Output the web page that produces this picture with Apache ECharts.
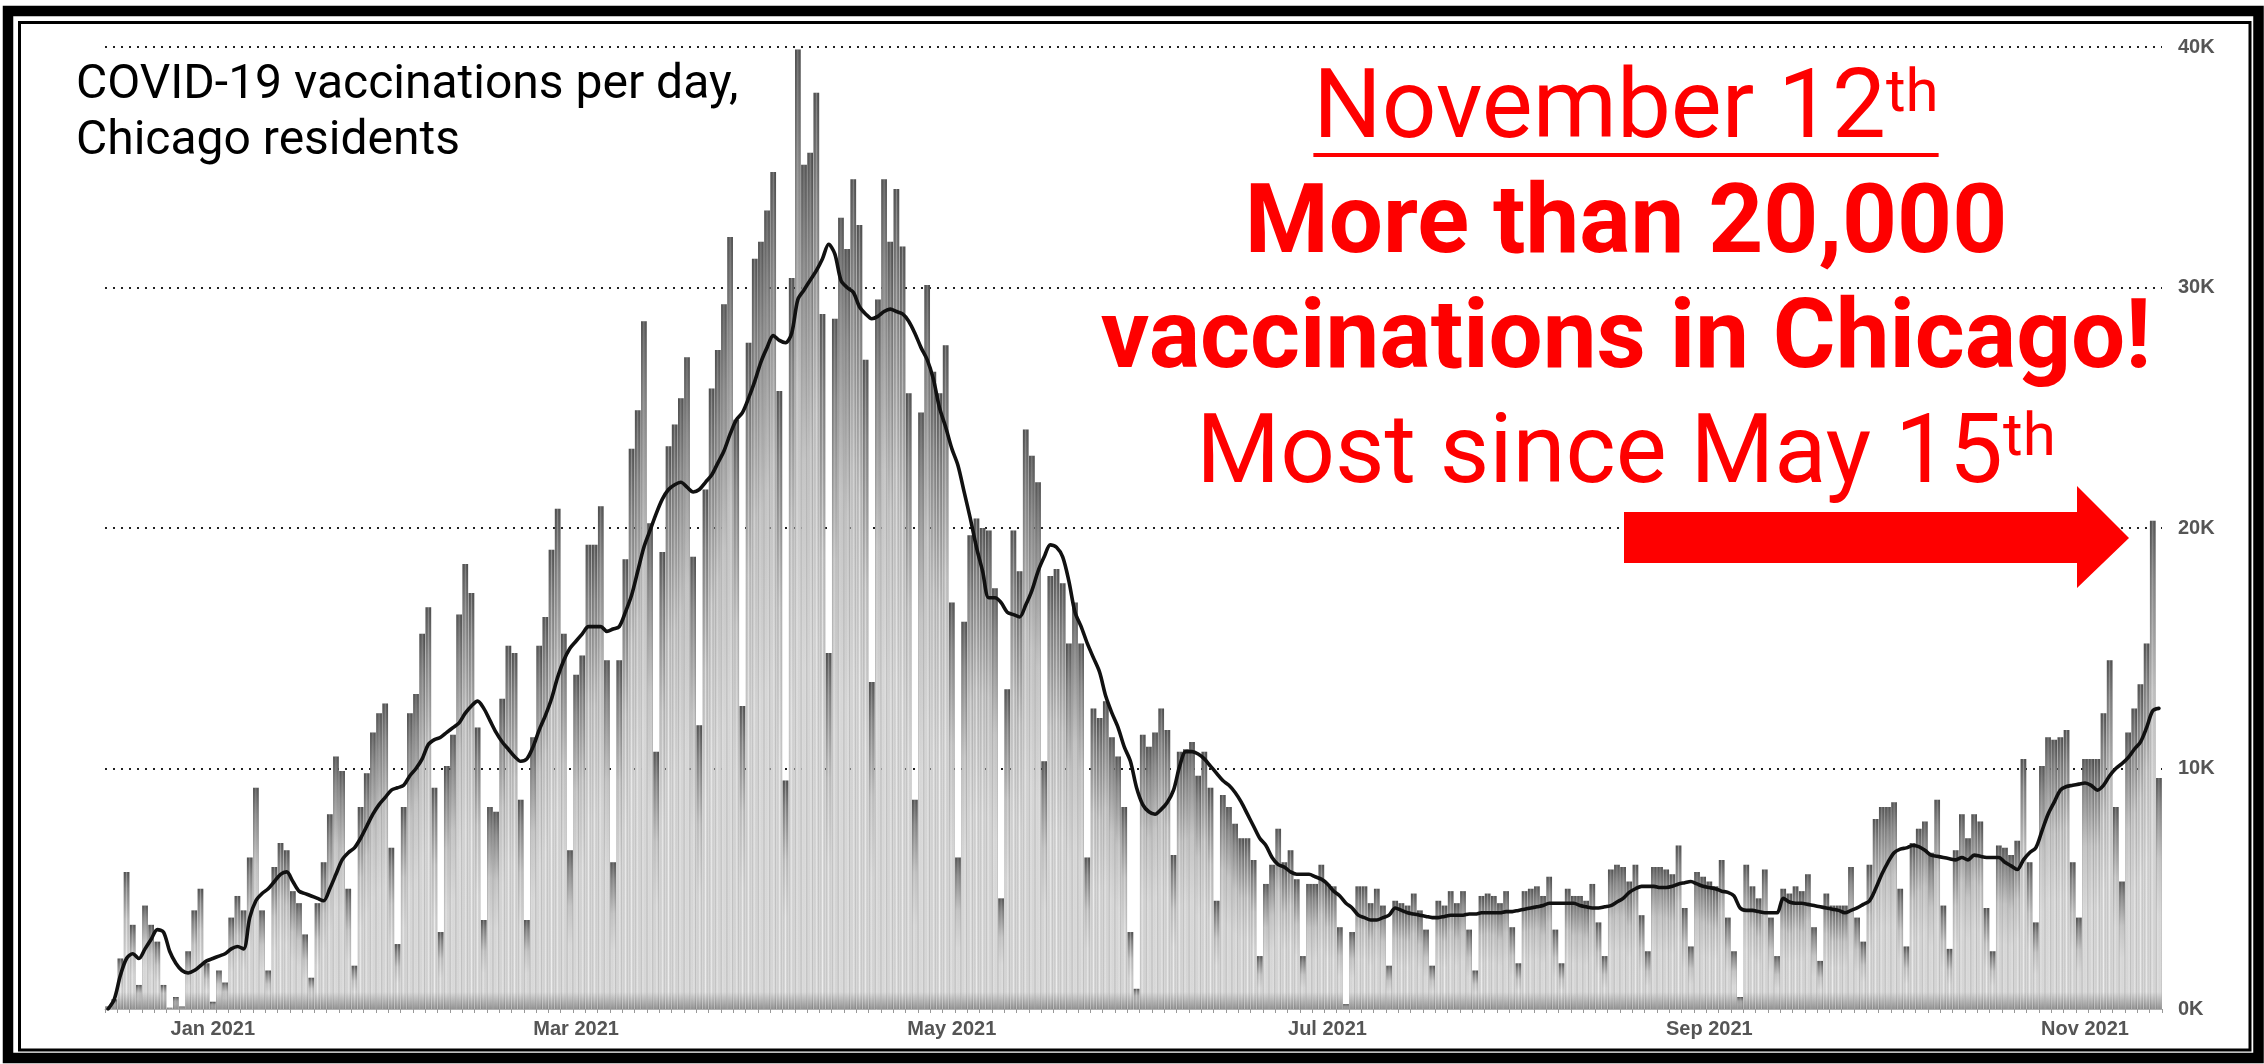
<!DOCTYPE html>
<html>
<head>
<meta charset="utf-8">
<script src="https://cdn.jsdelivr.net/npm/echarts@6/dist/echarts.min.js"></script>
<style>
html,body{margin:0;padding:0;background:#fff;}
#chart{width:2264px;height:1064px;}
</style>
</head>
<body>
<div id="chart"></div>
<script>
// ---------------- DATA (thousands of vaccinations per day) ----------------
const startDate = '2020-12-15';

const daily_dec2020 = [0.1,0.4,2.1,5.7,3.5,1.0,4.3,3.5,2.8,1.0,0.05,0.5,0.1,2.4,4.1,5.0,1.9];
const daily_jan2021 = [0.3,1.6,1.1,3.8,4.7,4.1,6.3,9.2,4.1,1.6,5.9,6.9,6.6,4.9,4.4,3.1,1.3,4.4,6.1,8.1,10.5,9.9,5.0,1.8,8.4,9.8,11.5,12.3,12.7,6.7,2.7];
const daily_feb2021 = [8.4,12.3,13.1,15.6,16.7,9.2,3.2,10.1,11.4,16.4,18.5,17.3,11.7,3.7,8.4,8.2,12.9,15.1,14.8,8.7,3.7,11.3,15.1,16.3,19.1,20.8,15.6,6.6];
const daily_mar2021 = [13.9,14.7,19.3,19.3,20.9,14.5,6.1,14.5,18.7,23.3,24.9,28.6,20.2,10.7,19.0,23.4,24.3,25.4,27.1,18.8,11.8,21.6,25.8,27.4,29.3,32.1,24.5,12.6,27.7,31.2,31.9];
const daily_apr2021 = [33.2,34.8,25.7,9.5,30.4,39.9,35.1,35.6,38.1,28.9,14.8,28.7,32.9,31.6,34.5,32.6,27.0,13.6,29.5,34.5,31.9,34.1,31.7,25.6,8.7,24.8,30.1,26.5,25.6,27.6];
const daily_may2021 = [16.9,6.3,16.1,19.7,20.4,20.0,19.9,17.5,4.6,13.3,19.9,18.2,24.1,23.0,21.9,10.3,18.0,18.3,17.7,15.2,16.9,15.2,6.3,12.5,12.1,12.8,11.3,10.5,8.4,3.2,0.84];
const daily_jun2021 = [11.4,10.9,11.5,12.5,11.6,6.4,10.7,10.8,11.1,9.7,10.7,9.2,4.5,8.9,8.4,7.7,7.1,7.1,6.2,2.2,5.2,6.0,7.5,6.1,6.6,5.4,2.2,5.2,5.2,6.0];
const daily_jul2021 = [5.2,5.1,3.4,0.2,3.2,5.1,5.1,4.4,5.0,4.3,1.8,4.5,4.4,4.3,4.8,4.1,3.3,1.8,4.5,4.3,4.9,4.4,4.9,3.3,1.6,4.7,4.8,4.7,4.4,4.9,3.4];
const daily_aug2021 = [1.9,4.9,5.0,5.1,4.7,5.5,3.3,1.9,5.0,4.7,4.7,4.5,5.2,3.6,2.2,5.8,6.0,5.9,5.3,6.0,3.9,2.4,5.9,5.9,5.8,5.6,6.8,4.2,2.6,5.7,5.5];
const daily_sep2021 = [5.3,5.1,6.2,3.8,2.4,0.5,6.0,5.1,4.6,5.8,3.8,2.2,5.0,4.8,5.1,4.9,5.6,3.4,2.0,4.8,4.3,4.3,4.3,5.9,3.8,2.8,6.0,7.9,8.4,8.4];
const daily_oct2021 = [8.6,5.0,2.6,6.9,7.5,7.8,6.5,8.7,4.3,2.5,6.6,8.1,7.1,8.1,7.8,4.2,2.4,6.8,6.7,6.4,7.0,10.4,6.1,3.6,10.1,11.3,11.2,11.3,11.6,6.1,3.8];
const daily_nov2021 = [10.4,10.4,10.4,12.3,14.5,8.4,5.3,11.5,12.5,13.5,15.2,20.3,9.6];

const avg_dec2020 = [0.0,0.4,1.4,2.1,2.3,2.1,2.5,2.9,3.3,3.2,2.4,1.9,1.6,1.5,1.6,1.8,2.0];
const avg_jan2021 = [2.1,2.2,2.3,2.5,2.6,2.5,3.8,4.5,4.8,5.0,5.3,5.6,5.7,5.3,4.9,4.8,4.7,4.6,4.5,5.0,5.6,6.2,6.5,6.7,7.1,7.6,8.1,8.5,8.8,9.1,9.2];
const avg_feb2021 = [9.3,9.7,10.0,10.4,11.0,11.2,11.3,11.5,11.7,11.9,12.3,12.6,12.8,12.5,12.0,11.5,11.1,10.8,10.5,10.3,10.4,10.9,11.6,12.2,12.9,13.8,14.5,15.0];
const avg_mar2021 = [15.3,15.6,15.9,15.9,15.9,15.7,15.8,15.9,16.5,17.2,18.2,19.2,19.9,20.6,21.2,21.6,21.8,21.9,21.7,21.5,21.6,21.9,22.2,22.7,23.2,23.9,24.5,24.8,25.4,26.1,26.9];
const avg_apr2021 = [27.5,28.0,27.8,27.7,28.1,29.5,29.9,30.3,30.7,31.2,31.8,31.4,30.3,30.0,29.8,29.2,28.9,28.7,28.8,29.0,29.1,29.0,28.9,28.6,28.1,27.5,27.0,26.2,25.0,24.2];
const avg_may2021 = [23.3,22.6,21.5,20.4,19.2,18.2,17.1,17.1,16.9,16.5,16.4,16.3,16.8,17.4,18.2,18.8,19.3,19.2,18.8,17.8,16.5,15.9,15.2,14.6,14.0,13.0,12.3,11.7,10.9,10.3,9.2];
const avg_jun2021 = [8.5,8.2,8.1,8.3,8.6,9.1,10.1,10.7,10.7,10.6,10.4,10.1,9.8,9.5,9.3,9.0,8.6,8.1,7.6,7.1,6.8,6.3,6.0,5.9,5.7,5.6,5.6,5.6,5.5,5.4];
const avg_jul2021 = [5.2,4.9,4.7,4.4,4.2,3.9,3.8,3.7,3.7,3.8,3.9,4.2,4.1,4.0,3.95,3.9,3.85,3.8,3.8,3.85,3.9,3.9,3.9,3.95,3.95,4.0,4.0,4.0,4.0,4.05,4.05];
const avg_aug2021 = [4.1,4.15,4.2,4.25,4.3,4.4,4.4,4.4,4.4,4.4,4.3,4.25,4.2,4.2,4.25,4.3,4.45,4.6,4.85,5.0,5.1,5.1,5.1,5.05,5.05,5.1,5.2,5.25,5.3,5.2,5.1];
const avg_sep2021 = [5.05,5.0,4.9,4.85,4.7,4.2,4.1,4.1,4.05,4.0,4.0,4.0,4.6,4.45,4.4,4.4,4.35,4.3,4.25,4.2,4.15,4.1,4.0,4.1,4.2,4.35,4.5,5.0,5.6,6.1];
const avg_oct2021 = [6.5,6.65,6.7,6.8,6.75,6.6,6.4,6.35,6.3,6.25,6.2,6.3,6.2,6.4,6.35,6.3,6.3,6.3,6.1,5.95,5.8,6.2,6.5,6.7,7.4,8.1,8.6,9.1,9.25,9.3,9.35];
const avg_nov2021 = [9.4,9.3,9.1,9.3,9.7,10.0,10.2,10.45,10.8,11.1,11.7,12.4,12.5];

const monthTickDates  = ['2021-01-01','2021-03-01','2021-05-01','2021-07-01','2021-09-01','2021-11-01'];
const monthTickLabels = ['Jan 2021','Mar 2021','May 2021','Jul 2021','Sep 2021','Nov 2021'];
const yTickValues = [0, 10000, 20000, 30000, 40000];
const yTickLabels = ['0K','10K','20K','30K','40K'];

const titleLines = ['COVID-19 vaccinations per day,', 'Chicago residents'];
const noteLine1 = ['November 12', 'th'];
const noteLine2 = 'More than 20,000';
const noteLine3 = 'vaccinations in Chicago!';
const noteLine4 = ['Most since May 15', 'th'];

// ---------------- BUILD ----------------
const dailyK = [].concat(daily_dec2020, daily_jan2021, daily_feb2021, daily_mar2021, daily_apr2021,
  daily_may2021, daily_jun2021, daily_jul2021, daily_aug2021, daily_sep2021, daily_oct2021, daily_nov2021);
const avgK = [].concat(avg_dec2020, avg_jan2021, avg_feb2021, avg_mar2021, avg_apr2021,
  avg_may2021, avg_jun2021, avg_jul2021, avg_aug2021, avg_sep2021, avg_oct2021, avg_nov2021);
const daily = dailyK.map(v => Math.round(v * 1000));
const avg7 = avgK.map(v => Math.round(v * 1000));

const categories = [];
const t0 = Date.parse(startDate + 'T00:00:00Z');
for (let k = 0; k < daily.length; k++) {
  categories.push(new Date(t0 + k * 86400000).toISOString().slice(0, 10));
}
const labelMap = {};
monthTickDates.forEach((d, i) => { labelMap[d] = monthTickLabels[i]; });
const yLabelMap = {};
yTickValues.forEach((v, i) => { yLabelMap[v] = yTickLabels[i]; });

const chart = echarts.init(document.getElementById('chart'), null, {renderer: 'canvas'});

// text measurement for centred composite lines
const mctx = document.createElement('canvas').getContext('2d');
function textW(str, font) { mctx.font = font; return mctx.measureText(str).width; }

const RED = '#fe0000';
const CX = 1626;
const bigSize = 96, supSize = 60;
const fReg = `400 ${bigSize}px Roboto`;
const fSup = `400 ${supSize}px Roboto`;
const mid = (baseline, size) => baseline - 0.342 * size;

const w1a = textW(noteLine1[0], fReg), w1b = textW(noteLine1[1], fSup);
const x1 = CX - (w1a + w1b) / 2;
const w4a = textW(noteLine4[0], fReg), w4b = textW(noteLine4[1], fSup);
const x4 = CX - (w4a + w4b) / 2;

function txt(x, y, text, size, weight, color, align) {
  return {
    type: 'text', x: x, y: y, z: 100,
    style: {
      text: text, fill: color, fontSize: size, fontWeight: weight, fontFamily: 'Roboto',
      align: align, textAlign: align, verticalAlign: 'middle', textVerticalAlign: 'middle'
    }
  };
}

const graphics = [
  // frame
  {type: 'rect', z: 120, shape: {x: 8, y: 11, width: 2250.5, height: 1047}, style: {fill: null, stroke: '#000', lineWidth: 10.5}},
  {type: 'rect', z: 120, shape: {x: 19.5, y: 22.5, width: 2230.5, height: 1027.5}, style: {fill: null, stroke: '#000', lineWidth: 3}},
  // title
  txt(76, mid(102, 48), titleLines[0], 48, 400, '#000', 'left'),
  txt(76, mid(158, 48), titleLines[1], 48, 400, '#000', 'left'),
  // red notes
  txt(x1, mid(146, bigSize), noteLine1[0], bigSize, 400, RED, 'left'),
  txt(x1 + w1a, mid(117, supSize), noteLine1[1], supSize, 400, RED, 'left'),
  {type: 'rect', z: 100, shape: {x: x1, y: 153, width: w1a + w1b, height: 4}, style: {fill: RED}},
  txt(CX, mid(261, bigSize), noteLine2, bigSize, 700, RED, 'center'),
  txt(CX, mid(376, bigSize), noteLine3, bigSize, 700, RED, 'center'),
  txt(x4, mid(491, bigSize), noteLine4[0], bigSize, 400, RED, 'left'),
  txt(x4 + w4a, mid(461, supSize), noteLine4[1], supSize, 400, RED, 'left'),
  // arrow
  {type: 'polygon', z: 100, shape: {points: [[1624,512],[2077,512],[2077,486],[2129,538],[2077,588],[2077,563],[1624,563]]}, style: {fill: RED}}
];

const barFill = new echarts.graphic.LinearGradient(0, 0, 0, 1, [
  {offset: 0, color: '#5c5c5c'},
  {offset: 0.12, color: '#8c8c8c'},
  {offset: 0.35, color: '#cdcdcd'},
  {offset: 0.6, color: '#e4e4e4'},
  {offset: 1, color: '#e6e6e6'}
]);
const barShade = new echarts.graphic.LinearGradient(0, 0, 1, 0, [
  {offset: 0, color: 'rgba(0,0,0,0.22)'},
  {offset: 0.25, color: 'rgba(0,0,0,0.03)'},
  {offset: 0.5, color: 'rgba(255,255,255,0.30)'},
  {offset: 0.75, color: 'rgba(0,0,0,0.03)'},
  {offset: 1, color: 'rgba(0,0,0,0.24)'}
]);
const barBase = new echarts.graphic.LinearGradient(0, 992, 0, 1009, [
  {offset: 0, color: 'rgba(0,0,0,0)'},
  {offset: 1, color: 'rgba(0,0,0,0.32)'}
], true);

const labelFont = "'Liberation Sans', Arial, sans-serif";

const option = {
  animation: false,
  backgroundColor: '#ffffff',
  grid: {left: 105, right: 102, top: 47, bottom: 55, containLabel: false, outerBoundsMode: 'none'},
  xAxis: {
    type: 'category',
    data: categories,
    boundaryGap: true,
    axisLine: {show: true, lineStyle: {color: '#b0b0b0', width: 1}},
    axisTick: {show: true, interval: 1, length: 4, lineStyle: {color: '#999'}},
    axisLabel: {
      interval: (idx, val) => labelMap[val] !== undefined,
      formatter: (val) => labelMap[val] || '',
      color: '#555', fontWeight: 'bold', fontSize: 20, fontFamily: labelFont, margin: 10
    },
    splitLine: {show: false}
  },
  yAxis: {
    type: 'value',
    position: 'right',
    min: 0, max: 40000, interval: 10000,
    axisLine: {show: false},
    axisTick: {show: false},
    axisLabel: {
      formatter: (v) => yLabelMap[v] !== undefined ? yLabelMap[v] : '',
      color: '#555', fontWeight: 'bold', fontSize: 20, fontFamily: labelFont, margin: 16
    },
    splitLine: {show: true, showMinLine: false, lineStyle: {type: [2, 6], color: '#222', width: 2}}
  },
  series: [
    {name: 'daily', type: 'bar', data: daily, barGap: '-100%', barCategoryGap: '8%', itemStyle: {color: barFill}, z: 2, silent: true},
    {name: 'shade', type: 'bar', data: daily, barGap: '-100%', barCategoryGap: '8%', itemStyle: {color: barShade}, z: 3, silent: true},
    {name: 'base', type: 'bar', data: daily, barGap: '-100%', barCategoryGap: '8%', itemStyle: {color: barBase}, z: 4, silent: true},
    {name: '7-day average', type: 'line', data: avg7, smooth: 0.3, symbol: 'none', z: 10,
      lineStyle: {color: '#111', width: 3.6, cap: 'round', join: 'round'}}
  ],
  graphic: graphics
};
chart.setOption(option);
</script>
</body>
</html>
